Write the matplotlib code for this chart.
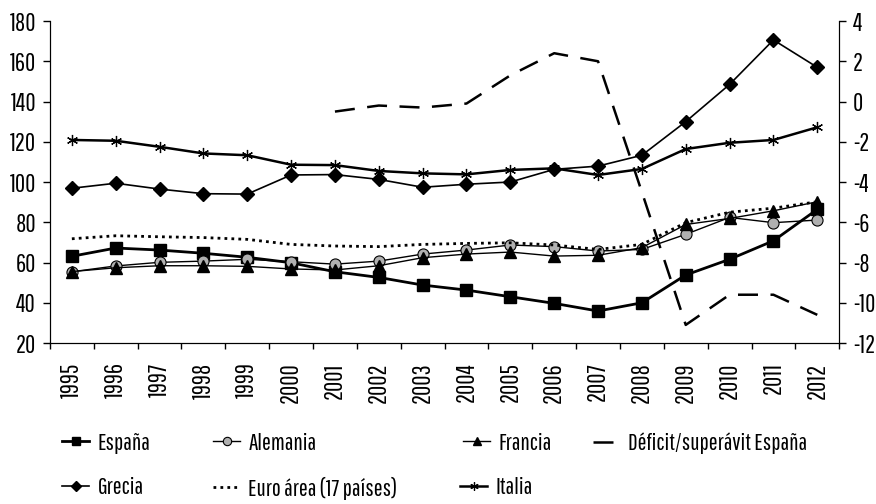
import numpy as np
import matplotlib.pyplot as plt
from matplotlib.lines import Line2D

plt.rcParams['font.family'] = ['Pathway Gothic One', 'DejaVu Sans']
plt.rcParams['axes.unicode_minus'] = False

years = list(range(1995, 2013))
espana = [63.1, 67.2, 66.2, 64.6, 62.6, 59.9, 55.4, 52.6, 48.8, 46.3, 43.0, 39.7, 35.9, 40.0, 53.8, 61.6, 70.8, 86.4]
alemania = [55.4, 58.3, 60.1, 60.7, 61.6, 60.4, 59.2, 60.7, 64.2, 66.2, 68.7, 67.9, 65.7, 66.5, 74.0, 82.4, 79.8, 81.1]
francia = [55.5, 57.4, 58.4, 58.4, 58.1, 56.8, 56.3, 58.4, 62.4, 64.2, 65.2, 63.2, 63.6, 67.4, 78.9, 81.9, 85.7, 90.2]
grecia = [96.9, 99.4, 96.5, 94.2, 94.0, 103.5, 103.7, 101.3, 97.4, 98.9, 100.0, 106.3, 107.9, 113.3, 130.0, 148.5, 170.6, 157.0]
euro = [71.8, 73.3, 72.8, 72.4, 71.5, 69.0, 68.2, 67.9, 69.0, 69.5, 69.8, 68.7, 66.5, 69.0, 79.8, 85.0, 87.0, 90.2]
italia = [120.9, 120.5, 117.5, 114.2, 113.3, 108.6, 108.4, 105.5, 104.3, 103.8, 106.0, 106.8, 103.5, 106.5, 116.4, 119.5, 120.9, 127.2]
deficit_years = list(range(2001, 2013))
deficit = [-0.5, -0.2, -0.3, -0.1, 1.3, 2.4, 2.0, -4.5, -11.1, -9.6, -9.6, -10.6]

x = np.arange(len(years))
xd = np.array([years.index(y) for y in deficit_years])

# estilos de cada serie
dotted = (0, (1, 1.5))
dashed = (0, (8, 5))
styles = {
    'España': dict(lw=2, marker='s', ms=8),
    'Alemania': dict(lw=1, marker='o', ms=8, mfc='#b0b0b0', mew=0.8),
    'Francia': dict(lw=1, marker='^', ms=8),
    'Grecia': dict(lw=1.2, marker='D', ms=7),
    'Euro área (17 países)': dict(lw=2, ls=dotted),
    'Italia': dict(lw=1.8, marker=(6, 2, 0), ms=8, mew=0.9),
    'Déficit/superávit España': dict(lw=1.8, ls=dashed),
}

fig = plt.figure(figsize=(8.76, 5.04), dpi=100)
ax = fig.add_axes([0.057, 0.3194, 0.901, 0.6389])
ax2 = ax.twinx()

ax.plot(x, espana, color='black', mec='black', **styles['España'])
ax.plot(x, alemania, color='black', mec='black', **styles['Alemania'])
ax.plot(x, francia, color='black', mec='black', **styles['Francia'])
ax.plot(x, grecia, color='black', mec='black', **styles['Grecia'])
ax.plot(x, euro, color='black', **styles['Euro área (17 países)'])
ax.plot(x, italia, color='black', mec='black', **styles['Italia'])
ax2.plot(xd, deficit, color='black', **styles['Déficit/superávit España'])

ax.set_xlim(-0.5, len(years) - 0.5)
ax.set_ylim(20, 180)
ax.set_yticks(range(20, 181, 20))
ax2.set_ylim(-12, 4)
ax2.set_yticks(range(-12, 5, 2))

ax.set_xticks(x)
ax.set_xticklabels([str(y) for y in years], rotation=90)
ax.tick_params(axis='x', length=0, pad=14)
ax.set_xticks(np.arange(-0.5, len(years), 1), minor=True)
ax.tick_params(axis='x', which='minor', length=4, direction='out', width=1)

for a in (ax, ax2):
    a.spines['top'].set_visible(False)
    a.tick_params(labelsize=18)
ax.tick_params(axis='y', length=5, width=1, pad=5)
ax2.tick_params(axis='y', length=5, width=1, pad=5)

# leyenda: una entrada por leyenda, colocada como en el original
legend_pos = [
    ('España', 62, 443), ('Alemania', 213, 443), ('Francia', 463, 443),
    ('Déficit/superávit España', 593, 443),
    ('Grecia', 62, 488), ('Euro área (17 países)', 213, 488), ('Italia', 460, 488),
]
W, H = 876, 504
for name, px, py in legend_pos:
    st = dict(styles[name])
    if 'ms' in st:
        st['ms'] = st['ms'] * 0.75
    proxy = Line2D([], [], color='black', mec='black', **st)
    fig.legend([proxy], [name], loc='center left',
               bbox_to_anchor=(px / W, 1 - py / H), frameon=False, fontsize=17,
               handlelength=1.15, handletextpad=0.35, borderpad=0, borderaxespad=0)

fig.savefig('out.png', dpi=100)
